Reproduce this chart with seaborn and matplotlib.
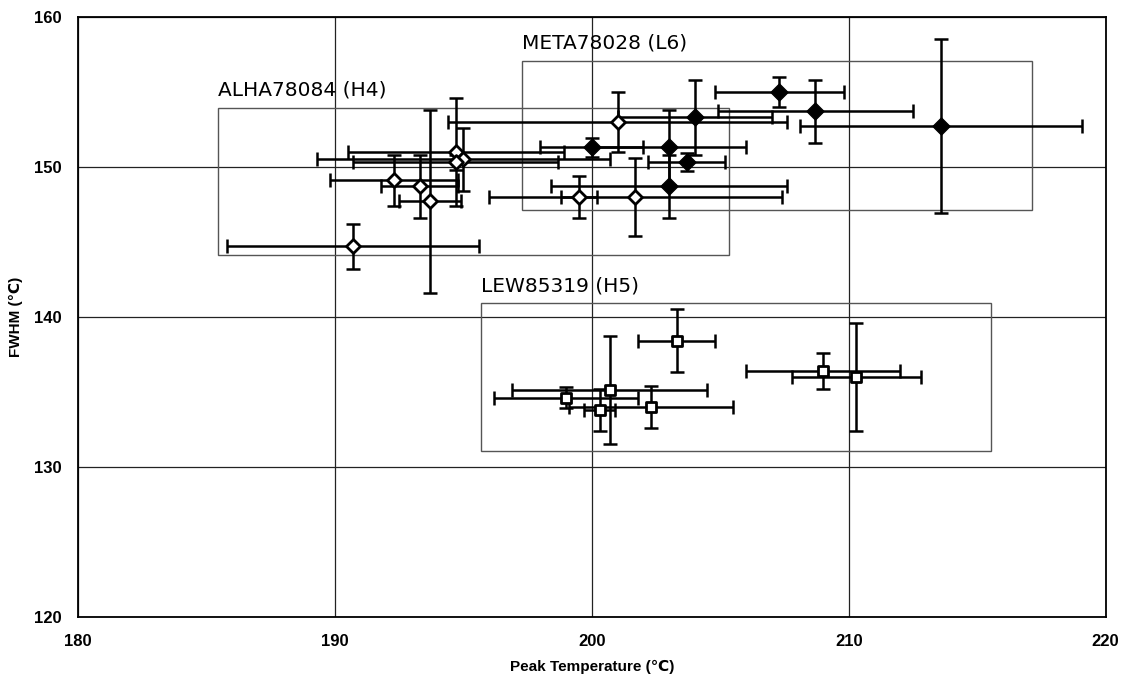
import numpy as np
import pandas as pd
import matplotlib
matplotlib.use("Agg")
import matplotlib.pyplot as plt
import seaborn as sns
from matplotlib.patches import Rectangle

# ALHA78084 (H4) - open diamonds
alha_x = [190.7, 192.3, 193.3, 193.7, 194.7, 195.0, 194.7, 199.5, 201.7, 201.0]
alha_y = [144.7, 149.1, 148.7, 147.7, 151.0, 150.5, 150.3, 148.0, 148.0, 153.0]
alha_xerr = [4.9, 2.5, 1.5, 1.2, 4.2, 5.7, 4.0, 0.7, 5.7, 6.6]
alha_yerr = [1.5, 1.7, 2.1, 6.1, 3.6, 2.1, 0.5, 1.4, 2.6, 2.0]

# META78028 (L6) - filled diamonds
meta_x = [207.3, 208.7, 213.6, 204.0, 203.0, 200.0, 203.7, 203.0]
meta_y = [155.0, 153.7, 152.7, 153.3, 151.3, 151.3, 150.35, 148.7]
meta_xerr = [2.5, 3.8, 5.5, 3.0, 3.0, 2.0, 1.5, 4.6]
meta_yerr = [1.0, 2.1, 5.8, 2.5, 2.5, 0.65, 0.6, 2.1]

# LEW85319 (H5) - open squares
lew_x = [203.3, 200.7, 199.0, 200.3, 202.3, 209.0, 210.3]
lew_y = [138.4, 135.1, 134.6, 133.8, 134.0, 136.4, 136.0]
lew_xerr = [1.5, 3.8, 2.8, 0.6, 3.2, 3.0, 2.5]
lew_yerr = [2.1, 3.6, 0.7, 1.4, 1.4, 1.2, 3.6]

# group boxes and labels
group_names = ["ALHA78084 (H4)", "META78028 (L6)", "LEW85319 (H5)"]
box_x0 = [185.45, 197.27, 195.7]
box_x1 = [205.35, 217.15, 215.55]
box_y0 = [144.1, 147.1, 131.05]
box_y1 = [153.95, 157.05, 140.9]

x_ticks = [180, 190, 200, 210, 220]
y_ticks = [120, 130, 140, 150, 160]

sns.set_style("white")
plt.rcParams['font.family'] = ['Liberation Sans', 'DejaVu Sans']
plt.rcParams['text.color'] = 'black'
plt.rcParams['axes.labelcolor'] = 'black'
plt.rcParams['xtick.color'] = 'black'
plt.rcParams['ytick.color'] = 'black'

fig = plt.figure(figsize=(11.23, 6.79), dpi=100)
ax = fig.add_axes([0.0695, 0.0915, 0.915, 0.8835])

# boxes
for name, x0, x1, y0, y1 in zip(group_names, box_x0, box_x1, box_y0, box_y1):
    ax.add_patch(Rectangle((x0, y0), x1 - x0, y1 - y0, fill=False,
                           edgecolor="#555555", lw=1.0, zorder=1))
    ax.text(x0, y1 + 0.55, name, fontsize=14.5, ha="left", va="bottom",
            family=['DejaVu Sans'], color="black", zorder=5)

groups = [
    (alha_x, alha_y, alha_xerr, alha_yerr),
    (meta_x, meta_y, meta_xerr, meta_yerr),
    (lew_x, lew_y, lew_xerr, lew_yerr),
]

for xs, ys, xe, ye in groups:
    ax.errorbar(xs, ys, xerr=xe, yerr=ye, fmt="none", ecolor="black",
                elinewidth=1.8, capsize=5, capthick=1.8, zorder=3)

frames = []
for label, xs, ys in [("ALHA", alha_x, alha_y), ("META", meta_x, meta_y), ("LEW", lew_x, lew_y)]:
    frames.append(pd.DataFrame({"T": xs, "FWHM": ys, "group": label}))
df = pd.concat(frames, ignore_index=True)

sns.scatterplot(data=df[df.group == "ALHA"], x="T", y="FWHM", marker="D", s=50,
                color="white", edgecolor="black", linewidth=2.0, ax=ax, zorder=4)
sns.scatterplot(data=df[df.group == "META"], x="T", y="FWHM", marker="D", s=75,
                color="black", edgecolor="black", linewidth=1.0, ax=ax, zorder=4)
sns.scatterplot(data=df[df.group == "LEW"], x="T", y="FWHM", marker="s", s=55,
                color="white", edgecolor="black", linewidth=2.0, ax=ax, zorder=4)

ax.set_xlim(180, 220)
ax.set_ylim(120, 160)
ax.set_xticks(x_ticks)
ax.set_yticks(y_ticks)
ax.grid(True, color="#222222", lw=0.9)
ax.set_axisbelow(True)
for sp in ax.spines.values():
    sp.set_color("black")
    sp.set_linewidth(1.3)
ax.tick_params(length=0, labelsize=12, pad=12)
for lbl in ax.get_xticklabels() + ax.get_yticklabels():
    lbl.set_fontweight("bold")
ax.set_xlabel("Peak Temperature (\u2103)", fontsize=11, fontweight="bold", labelpad=8)
ax.set_ylabel("FWHM (\u2103)", fontsize=11, fontweight="bold", labelpad=8)

fig.savefig("out.png", dpi=100)
